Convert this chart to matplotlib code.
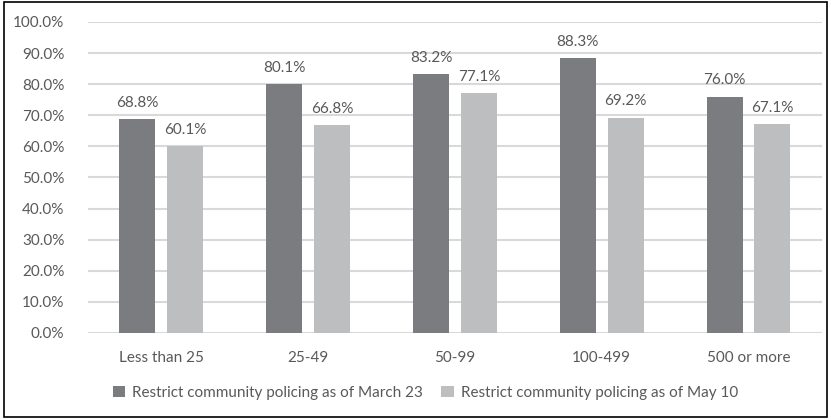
import numpy as np
import matplotlib.pyplot as plt
from matplotlib.patches import Rectangle

# data
categories = ['Less than 25', '25-49', '50-99', '100-499', '500 or more']
march23 = [68.8, 80.1, 83.2, 88.3, 76.0]
may10 = [60.1, 66.8, 77.1, 69.2, 67.1]
series_names = ['Restrict community policing as of March 23',
                'Restrict community policing as of May 10']

DARK = '#7b7c80'
LIGHT = '#bdbec0'
TEXT = '#595959'
GRID = '#d9d9d9'
FS = 11

plt.rcParams['font.family'] = ['Lato', 'DejaVu Sans']
plt.rcParams['font.size'] = FS

fig = plt.figure(figsize=(8.31, 4.19), dpi=100)
ax = fig.add_axes([0.1059, 0.2053, 0.8831, 0.7422])

x = np.arange(len(categories))
w = 0.245
off = 0.163
b1 = ax.bar(x - off, march23, w, color=DARK, label=series_names[0], zorder=3)
b2 = ax.bar(x + off, may10, w, color=LIGHT, label=series_names[1], zorder=3)

for bars, vals in ((b1, march23), (b2, may10)):
    for rect, v in zip(bars, vals):
        ax.text(rect.get_x() + rect.get_width() / 2, v + 3.0, '%.1f%%' % v,
                ha='center', va='bottom', color=TEXT, fontsize=FS)

ax.set_xlim(-0.5, len(categories) - 0.5)
ax.set_ylim(0, 100)
ax.set_yticks(np.arange(0, 101, 10))
ax.set_yticklabels(['%.1f%%' % t for t in np.arange(0, 101, 10)])
ax.set_xticks(x)
ax.set_xticklabels(categories)
ax.yaxis.grid(True, color=GRID, linewidth=1.5, zorder=0)
ax.set_axisbelow(True)
for s in ax.spines.values():
    s.set_visible(False)
ax.tick_params(axis='both', length=0, colors=TEXT, labelsize=FS)
ax.tick_params(axis='x', pad=13)
ax.tick_params(axis='y', pad=17)

leg = fig.legend(handles=[b1, b2], loc='center', bbox_to_anchor=(0.512, 0.063),
                 ncol=2, frameon=False, handlelength=0.8, handleheight=0.8,
                 handletextpad=0.45, columnspacing=1.2, fontsize=FS)
for t in leg.get_texts():
    t.set_color(TEXT)

fig.patches.append(Rectangle((0.005, 0.005), 0.99, 0.99, transform=fig.transFigure,
                             fill=False, edgecolor='black', linewidth=1.2))

fig.savefig('out.png', dpi=100)
